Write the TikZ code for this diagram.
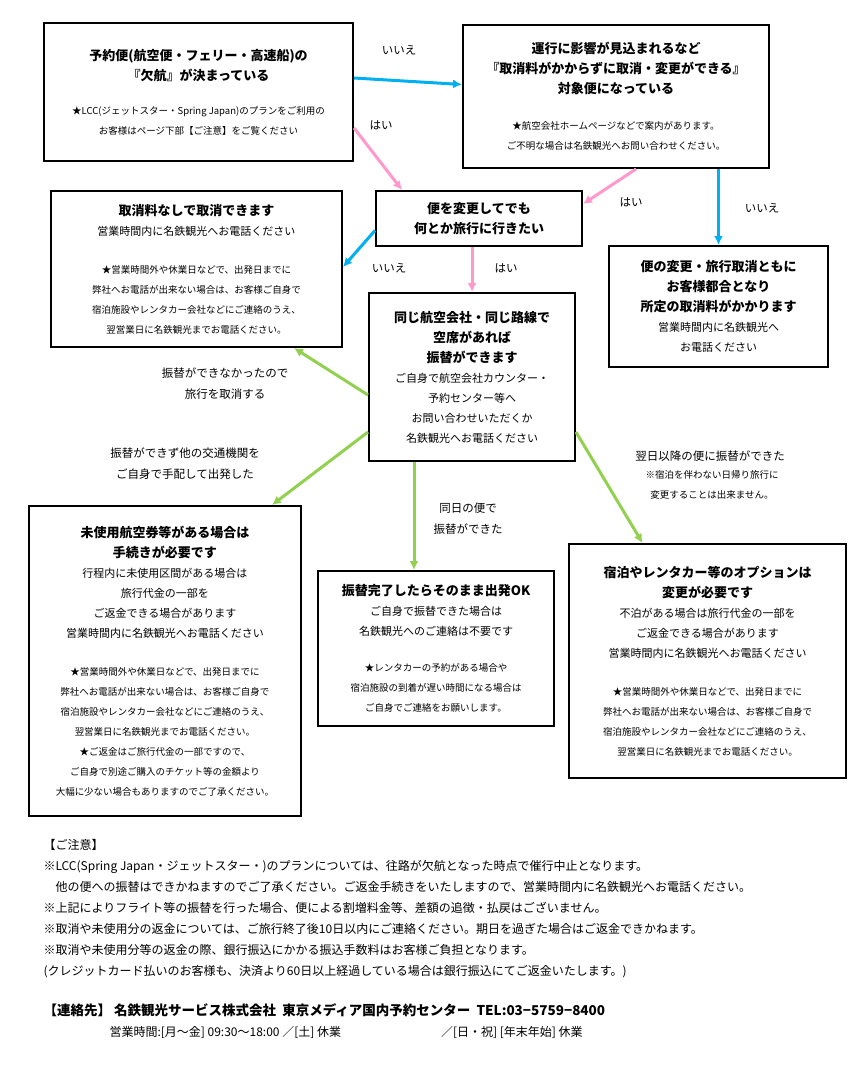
\documentclass[tikz,border=0pt]{standalone}
\usepackage{fontspec}
\setmainfont{Noto Sans CJK JP}
\usetikzlibrary{arrows.meta,positioning}
\definecolor{noblue}{RGB}{0,176,240}
\definecolor{yespink}{RGB}{255,153,204}
\definecolor{flowgreen}{RGB}{146,208,80}
\newcommand{\ttl}{\fontsize{13}{20}\selectfont\bfseries}
\newcommand{\bdy}{\fontsize{11}{20}\selectfont}
\newcommand{\nte}{\fontsize{9.5}{20}\selectfont}
\tikzset{
  box/.style={draw, line width=2pt, anchor=north west, align=center, inner sep=0pt,
    font=\fontsize{11}{20}\selectfont},
  yes/.style={yespink, line width=3pt, -{Latex[length=9pt,width=9pt]}},
  no/.style={noblue, line width=3pt, -{Latex[length=9pt,width=9pt]}},
  go/.style={flowgreen, line width=3pt, -{Latex[length=9pt,width=9pt]}},
  lbl/.style={align=center, text=black, font=\fontsize{11.5}{21}\selectfont}
}
\begin{document}
\begin{tikzpicture}[x=1pt,y=-1pt]
\useasboundingbox (0,0) rectangle (859,1069);
% boxes
\node[box, minimum width=309, minimum height=138] (cancel) at (43,22)
  {\ttl 予約便(航空便・フェリー・高速船)の\\\ttl 『欠航』が決まっている\\[14pt]
   \nte ★LCC(ジェットスター・Spring Japan)のプランをご利用の\\\nte お客様はページ下部【ご注意】をご覧ください};
\node[box, minimum width=306, minimum height=143] (free) at (462,24)
  {\ttl 運行に影響が見込まれるなど\\\ttl 『取消料がかからずに取消・変更ができる』\\\ttl 対象便になっている\\[16pt]
   \nte ★航空会社ホームページなどで案内があります。\\\nte ご不明な場合は名鉄観光へお問い合わせください。};
\node[box, minimum width=291, minimum height=156] (nofee) at (50,190)
  {\ttl 取消料なしで取消できます\\\bdy 営業時間内に名鉄観光へお電話ください\\[18pt]
   \nte ★営業時間外や休業日などで、出発日までに\\\nte 弊社へお電話が出来ない場合は、お客様ご自身で\\
   \nte 宿泊施設やレンタカー会社などにご連絡のうえ、\\\nte 翌営業日に名鉄観光までお電話ください。};
\node[box, minimum width=206, minimum height=55] (change) at (375,190)
  {\ttl 便を変更してでも\\\ttl 何とか旅行に行きたい};
\node[box, minimum width=219, minimum height=121] (charge) at (608,245)
  {\ttl 便の変更・旅行取消ともに\\\ttl お客様都合となり\\\ttl 所定の取消料がかかります\\
   \bdy 営業時間内に名鉄観光へ\\\bdy お電話ください};
\node[box, minimum width=206, minimum height=168] (same) at (368,292)
  {\ttl 同じ航空会社・同じ路線で\\\ttl 空席があれば\\\ttl 振替ができます\\
   \bdy ご自身で航空会社カウンター・\\\bdy 予約センター等へ\\\bdy お問い合わせいただくか\\\bdy 名鉄観光へお電話ください};
\node[box, minimum width=272, minimum height=310] (unused) at (28,505)
  {\ttl 未使用航空券等がある場合は\\\ttl 手続きが必要です\\
   \bdy 行程内に未使用区間がある場合は\\\bdy 旅行代金の一部を\\\bdy ご返金できる場合があります\\\bdy 営業時間内に名鉄観光へお電話ください\\[18pt]
   \nte ★営業時間外や休業日などで、出発日までに\\\nte 弊社へお電話が出来ない場合は、お客様ご自身で\\
   \nte 宿泊施設やレンタカー会社などにご連絡のうえ、\\\nte 翌営業日に名鉄観光までお電話ください。\\
   \nte ★ご返金はご旅行代金の一部ですので、\\\nte ご自身で別途ご購入のチケット等の金額より\\\nte 大幅に少ない場合もありますのでご了承ください。};
\node[box, minimum width=236, minimum height=155] (depart) at (317,570)
  {\ttl 振替完了したらそのまま出発OK\\\bdy ご自身で振替できた場合は\\\bdy 名鉄観光へのご連絡は不要です\\[16pt]
   \nte ★レンタカーの予約がある場合や\\\nte 宿泊施設の到着が遅い時間になる場合は\\\nte ご自身でご連絡をお願いします。};
\node[box, minimum width=277, minimum height=234] (option) at (568,543)
  {\ttl 宿泊やレンタカー等のオプションは\\\ttl 変更が必要です\\
   \bdy 不泊がある場合は旅行代金の一部を\\\bdy ご返金できる場合があります\\\bdy 営業時間内に名鉄観光へお電話ください\\[18pt]
   \nte ★営業時間外や休業日などで、出発日までに\\\nte 弊社へお電話が出来ない場合は、お客様ご自身で\\
   \nte 宿泊施設やレンタカー会社などにご連絡のうえ、\\\nte 翌営業日に名鉄観光までお電話ください。};
% connectors
\draw[no] ([yshift=14]cancel.east) -- ([yshift=12]free.west);
\draw[yes] ([yshift=-36]cancel.east) -- ([xshift=27]change.north west);
\draw[yes] ([xshift=20]free.south) -- ([yshift=-14]change.north east);
\draw[no] (free.south -| charge.center) -- (charge.north -| charge.center);
\draw[no] ([yshift=-12]change.west) -- ([yshift=-77]nofee.north east);
\draw[yes] (change.south -| same.center) -- (same.north);
\draw[go] ([yshift=-103]same.north west) -- ([xshift=-49]nofee.south east);
\draw[go] ([yshift=-140]same.north west) -- ([xshift=-30]unused.north east);
\draw[go] ([xshift=-58]same.south) -- ([xshift=-22]depart.north);
\draw[go] ([yshift=-140]same.north east) -- ([xshift=-65]option.north);
% connector labels
\node[lbl] (l-no1) at (399,50) {いいえ};
\node[lbl] (l-yes1) at (381,125) {はい};
\node[lbl] (l-yes2) at (631,202) {はい};
\node[lbl] (l-no2) at (762,208) {いいえ};
\node[lbl] (l-no3) at (389,268) {いいえ};
\node[lbl] (l-yes3) at (506,268) {はい};
\node[lbl] (l-cancel) at (225,384) {振替ができなかったので\\旅行を取消する};
\node[lbl] (l-other) at (185,464) {振替ができず他の交通機関を\\ご自身で手配して出発した};
\node[lbl] (l-same) at (468,519) {同日の便で\\振替ができた};
\node[lbl] (l-next) at (710,456) {翌日以降の便に振替ができた};
\node[lbl, font=\fontsize{9.5}{20}\selectfont] (l-note) at (712,485) {※宿泊を伴わない日帰り旅行に\\変更することは出来ません。};
% notes
\node[anchor=north west, align=left, font=\fontsize{12}{21}\selectfont] (notes) at (40,836)
  {【ご注意】\\
   ※LCC(Spring Japan・ジェットスター・)のプランについては、往路が欠航となった時点で催行中止となります。\\
   \quad 他の便への振替はできかねますのでご了承ください。ご返金手続きをいたしますので、営業時間内に名鉄観光へお電話ください。\\
   ※上記によりフライト等の振替を行った場合、便による割増料金等、差額の追徴・払戻はございません。\\
   ※取消や未使用分の返金については、ご旅行終了後10日以内にご連絡ください。期日を過ぎた場合はご返金できかねます。\\
   ※取消や未使用分等の返金の際、銀行振込にかかる振込手数料はお客様ご負担となります。\\
   (クレジットカード払いのお客様も、決済より60日以上経過している場合は銀行振込にてご返金いたします。)};
\node[anchor=north west, font=\fontsize{13.5}{20}\selectfont\bfseries] (contact) at (40,1000)
  {【連絡先】 名鉄観光サービス株式会社\ \ 東京メディア国内予約センター\ \ TEL:03−5759−8400};
\node[anchor=north west, font=\fontsize{12}{20}\selectfont] (hours) at (106,1023)
  {営業時間:[月〜金] 09:30〜18:00 ／[土] 休業\hspace{100pt}／[日・祝] [年末年始] 休業};
\end{tikzpicture}
\end{document}
